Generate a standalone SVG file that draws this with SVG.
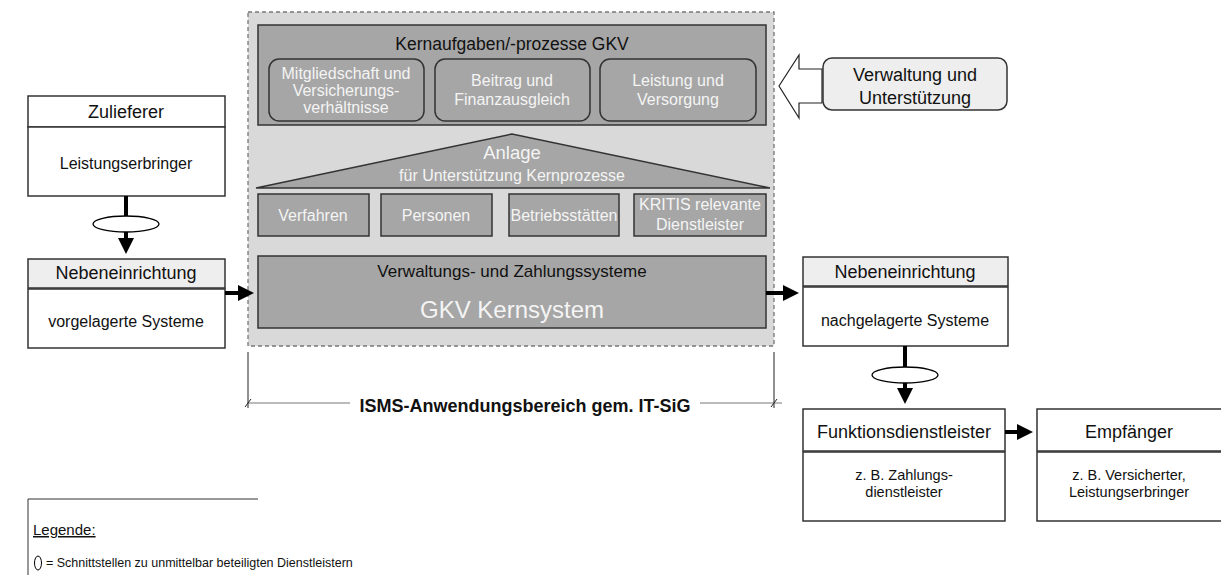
<svg xmlns="http://www.w3.org/2000/svg" width="1221" height="575" viewBox="0 0 1221 575">
  <defs>
    <style>
      text { font-family: "Liberation Sans", Arial, sans-serif; text-anchor: middle; }
      .box { fill: #ffffff; stroke: #333333; stroke-width: 1.5; }
      .hdr { fill: #eeeeee; stroke: #333333; stroke-width: 1.5; }
      .grey { fill: #a6a6a6; stroke: #333333; stroke-width: 1.5; }
      .dark { fill: #111111; }
      .light { fill: #f4f4f4; }
      .t18 { font-size: 18px; }
      .t16 { font-size: 16px; }
      .t14 { font-size: 14.5px; }
      .flow { stroke: #000000; stroke-width: 4; fill: none; }
      .thin { stroke: #222222; stroke-width: 1; fill: none; }
      .iface { fill: #ffffff; stroke: #000000; stroke-width: 1.3; }
    </style>
    <marker id="head" markerWidth="4" markerHeight="4" refX="3" refY="2" orient="auto" markerUnits="strokeWidth">
      <path d="M0,0 L4,2 L0,4 Z" fill="#000000"/>
    </marker>
  </defs>
  <rect width="1221" height="575" fill="#ffffff"/>

  <!-- scope area of the core system -->
  <g id="scope">
    <rect x="248" y="12" width="526" height="334" fill="#d9d9d9" stroke="#777777" stroke-width="1.3" stroke-dasharray="4,3"/>
  </g>

  <g id="kernaufgaben">
    <rect class="grey" x="258" y="25" width="508" height="100"/>
    <text class="dark" x="512" y="50" font-size="17.5">Kernaufgaben/-prozesse GKV</text>
  </g>
  <g id="mitgliedschaft">
    <rect class="grey" x="269" y="59" width="155" height="62" rx="10"/>
    <text class="light t16" x="346" y="79">Mitgliedschaft und</text>
    <text class="light t16" x="346" y="96">Versicherungs-</text>
    <text class="light t16" x="346" y="113">verhältnisse</text>
  </g>
  <g id="beitrag">
    <rect class="grey" x="435" y="59" width="155" height="62" rx="10"/>
    <text class="light t16" x="512" y="86">Beitrag und</text>
    <text class="light t16" x="512" y="105">Finanzausgleich</text>
  </g>
  <g id="leistung">
    <rect class="grey" x="600" y="59" width="156" height="62" rx="10"/>
    <text class="light t16" x="678" y="86">Leistung und</text>
    <text class="light t16" x="678" y="105">Versorgung</text>
  </g>

  <g id="anlage">
    <polygon class="grey" points="512,134 256,188 770,188"/>
    <text class="light" x="512" y="159" font-size="18.5">Anlage</text>
    <text class="light t16" x="512" y="181">für Unterstützung Kernprozesse</text>
  </g>
  <g id="verfahren">
    <rect class="grey" x="258" y="194" width="111" height="42"/>
    <text class="light t16" x="313" y="221">Verfahren</text>
  </g>
  <g id="personen">
    <rect class="grey" x="381" y="194" width="111" height="42"/>
    <text class="light t16" x="436" y="221">Personen</text>
  </g>
  <g id="betriebsstaetten">
    <rect class="grey" x="509" y="194" width="110" height="42"/>
    <text class="light t16" x="564" y="221" textLength="107" lengthAdjust="spacingAndGlyphs">Betriebsstätten</text>
  </g>
  <g id="kritis">
    <rect class="grey" x="634" y="194" width="132" height="42"/>
    <text class="light t16" x="700" y="210">KRITIS relevante</text>
    <text class="light t16" x="700" y="230">Dienstleister</text>
  </g>

  <g id="kernsystem">
    <rect class="grey" x="258" y="256" width="508" height="72"/>
    <text class="dark" x="512" y="277" font-size="17">Verwaltungs- und Zahlungssysteme</text>
    <text class="light" x="512" y="318" font-size="24">GKV Kernsystem</text>
  </g>

  <g id="verwaltung">
    <polygon points="779,86 799,55 799,69 822,69 822,103 799,103 799,118" fill="#ffffff" stroke="#222222" stroke-width="1.2"/>
    <rect class="hdr" x="823" y="58" width="184" height="52" rx="9"/>
    <text class="dark t18" x="915" y="81">Verwaltung und</text>
    <text class="dark t18" x="915" y="104">Unterstützung</text>
  </g>

  <!-- upstream side -->
  <g id="zulieferer">
    <rect class="box" x="28" y="96" width="197" height="31"/>
    <text class="dark t18" x="126" y="118">Zulieferer</text>
    <rect class="box" x="28" y="127" width="197" height="69"/>
    <text class="dark t16" x="126" y="169">Leistungserbringer</text>
  </g>
  <g id="nebeneinrichtung-vor">
    <rect class="hdr" x="28" y="259" width="197" height="29"/>
    <text class="dark t18" x="126" y="279">Nebeneinrichtung</text>
    <rect class="box" x="28" y="289" width="197" height="59"/>
    <text class="dark t16" x="126" y="327">vorgelagerte Systeme</text>
  </g>

  <!-- downstream side -->
  <g id="nebeneinrichtung-nach">
    <rect class="hdr" x="803" y="257" width="205" height="29"/>
    <text class="dark t18" x="905" y="278">Nebeneinrichtung</text>
    <rect class="box" x="803" y="287" width="205" height="59"/>
    <text class="dark t16" x="905" y="326">nachgelagerte Systeme</text>
  </g>
  <g id="funktionsdienstleister">
    <rect class="box" x="803" y="409" width="202" height="42"/>
    <text class="dark t18" x="904" y="438">Funktionsdienstleister</text>
    <rect class="box" x="803" y="452" width="202" height="69"/>
    <text class="dark t14" x="904" y="480">z. B. Zahlungs-</text>
    <text class="dark t14" x="904" y="497">dienstleister</text>
  </g>
  <g id="empfaenger">
    <rect class="box" x="1037" y="409" width="190" height="42"/>
    <text class="dark t18" x="1129" y="438">Empfänger</text>
    <rect class="box" x="1037" y="452" width="190" height="69"/>
    <text class="dark t14" x="1129" y="480">z. B. Versicherter,</text>
    <text class="dark t14" x="1129" y="497">Leistungserbringer</text>
  </g>

  <!-- connectors -->
  <g id="connectors">
    <line class="flow" x1="126" y1="196" x2="126" y2="250" marker-end="url(#head)"/>
    <ellipse class="iface" cx="126" cy="224" rx="33" ry="8"/>
    <line class="flow" x1="225" y1="293" x2="250" y2="293" marker-end="url(#head)"/>
    <line class="flow" x1="766" y1="293" x2="795" y2="293" marker-end="url(#head)"/>
    <line class="flow" x1="905" y1="346" x2="905" y2="400" marker-end="url(#head)"/>
    <ellipse class="iface" cx="905" cy="375" rx="33" ry="8"/>
    <line class="flow" x1="1005" y1="432" x2="1029" y2="432" marker-end="url(#head)"/>
  </g>

  <!-- scope dimension line -->
  <g id="isms">
    <line class="thin" x1="248" y1="352" x2="248" y2="408"/>
    <line class="thin" x1="774" y1="352" x2="774" y2="408"/>
    <line x1="248" y1="403" x2="350" y2="403" stroke="#777777" stroke-width="1"/>
    <line x1="700" y1="403" x2="782" y2="403" stroke="#777777" stroke-width="1"/>
    <line class="thin" x1="245" y1="407" x2="251" y2="399"/>
    <line class="thin" x1="771" y1="407" x2="777" y2="399"/>
    <text class="dark" x="525" y="412" font-size="18" font-weight="bold">ISMS-Anwendungsbereich gem. IT-SiG</text>
  </g>

  <!-- legend -->
  <g id="legende">
    <polyline points="28,575 28,499 258,499" fill="none" stroke="#333333" stroke-width="1"/>
    <text class="dark" x="33" y="535" font-size="15" style="text-anchor:start" text-decoration="underline">Legende:</text>
    <ellipse cx="38" cy="563" rx="3.5" ry="7" fill="#ffffff" stroke="#000000" stroke-width="1"/>
    <text class="dark" x="46" y="567" font-size="12.5" style="text-anchor:start">= Schnittstellen zu unmittelbar beteiligten Dienstleistern</text>
  </g>
</svg>
